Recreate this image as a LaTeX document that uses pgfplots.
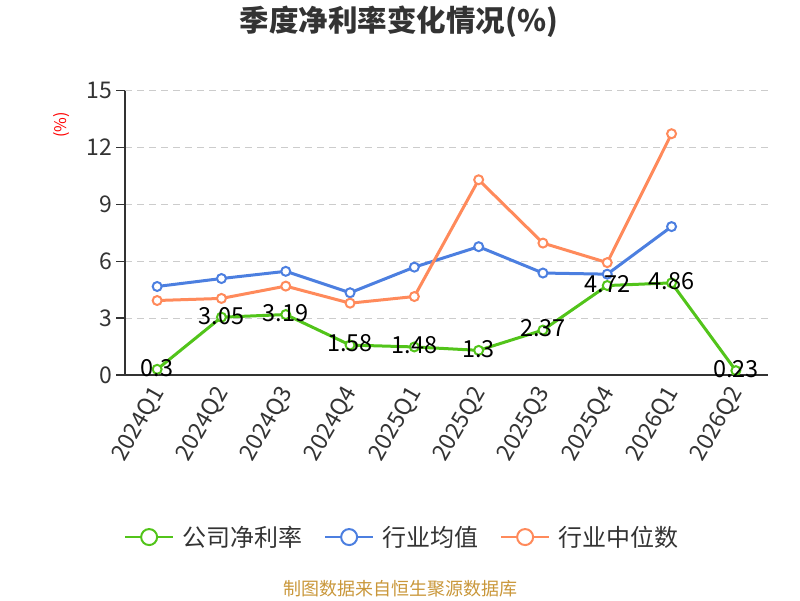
\documentclass[border=0pt]{standalone}
\usepackage{fontspec}
\setmainfont{Noto Sans CJK SC}
\usepackage{pgfplots}
\pgfplotsset{compat=1.18}
\usepackage{pgfplotstable}
\definecolor{cgreen}{HTML}{52C41A}
\definecolor{cblue}{HTML}{4C7FE0}
\definecolor{corange}{HTML}{FF8A5B}
\definecolor{ctext}{HTML}{333333}
\definecolor{cgrid}{HTML}{CCCCCC}
\definecolor{cfoot}{HTML}{C9973A}
\newcommand\fs[1]{\fontsize{#1}{#1}\selectfont}
\pgfplotstableread{
x y lab
0 0.3 0.3
1 3.05 3.05
2 3.19 3.19
3 1.58 1.58
4 1.48 1.48
5 1.3 1.3
6 2.37 2.37
7 4.72 4.72
8 4.86 4.86
9 0.23 0.23
}\company
\pgfplotstableread{
x y
0 4.67
1 5.09
2 5.47
3 4.34
4 5.69
5 6.77
6 5.38
7 5.32
8 7.83
}\indmean
\pgfplotstableread{
x y
0 3.93
1 4.04
2 4.69
3 3.79
4 4.14
5 10.3
6 6.96
7 5.93
8 12.73
}\indmedian
\begin{document}
\begin{tikzpicture}
\path[use as bounding box] (0,0) rectangle (800pt,600pt);
\begin{axis}[
  at={(125pt,225pt)}, anchor=south west,
  scale only axis, width=643pt, height=284.3pt,
  xmin=-0.5, xmax=9.5, ymin=0, ymax=15,
  ytick={0,3,...,15},
  xtick={0,...,9},
  xticklabels={2024Q1,2024Q2,2024Q3,2024Q4,2025Q1,2025Q2,2025Q3,2025Q4,2026Q1,2026Q2},
  extra x ticks={-0.5,0.5,1.5,2.5,3.5,4.5,5.5,6.5,7.5,8.5,9.5},
  extra x tick labels={{}},
  extra x tick style={grid=none, major tick length=8pt, tick style={draw=ctext, line width=1.5pt}},
  xtick style={draw=none},
  ytick style={draw=ctext, line width=1.5pt},
  tick align=outside,
  major tick length=9pt,
  axis x line*=bottom, axis y line*=left,
  axis line style={ctext, line width=1.5pt, -},
  ymajorgrids,
  grid style={cgrid, line width=1.2pt, dash pattern=on 7pt off 5pt},
  /pgf/number format/assume math mode=true,
  yticklabel style={font=\fs{23}, color=ctext},
  xticklabel style={font=\fs{23}, color=ctext, rotate=60, anchor=east, yshift=-4pt},
  legend columns=3,
  legend style={at={(0.431,-0.570)}, anchor=center, draw=none, fill=none,
    font=\fs{24}, text=ctext,
    /tikz/every even column/.append style={column sep=20pt},
    /tikz/every odd column/.append style={column sep=6pt}},
  legend image code/.code={
    \draw[line width=2pt] (0pt,0pt) -- (48pt,0pt);
    \draw[line width=2pt, fill=white] (24pt,0pt) circle (8pt);
  },
  clip=false,
]
\addplot[cgreen, line width=3pt, mark=*, mark size=4.5pt, mark options={fill=white, line width=2pt}] table[x=x,y=y]{\company};
\addlegendentry{公司净利率}
\addplot[cblue, line width=3pt, mark=*, mark size=4.5pt, mark options={fill=white, line width=2pt}] table[x=x,y=y]{\indmean};
\addlegendentry{行业均值}
\addplot[corange, line width=3pt, mark=*, mark size=4.5pt, mark options={fill=white, line width=2pt}] table[x=x,y=y]{\indmedian};
\addlegendentry{行业中位数}
\addplot[draw=none, mark=none, forget plot, nodes near coords, point meta=explicit symbolic,
  every node near coord/.style={font=\fs{23.5}, color=black, anchor=center, yshift=1.5pt}]
  table[x=x,y=y,meta=lab]{\company};
\end{axis}
\node[font=\bfseries\fs{29.5}, color=ctext] at (399pt,578pt) {季度净利率变化情况(\%)};
\node[font=\fs{16}, color=red, rotate=90] at (62pt,475pt) {(\%)};
\node[font=\fs{18}, color=cfoot] at (400pt,11pt) {制图数据来自恒生聚源数据库};
\end{tikzpicture}
\end{document}
